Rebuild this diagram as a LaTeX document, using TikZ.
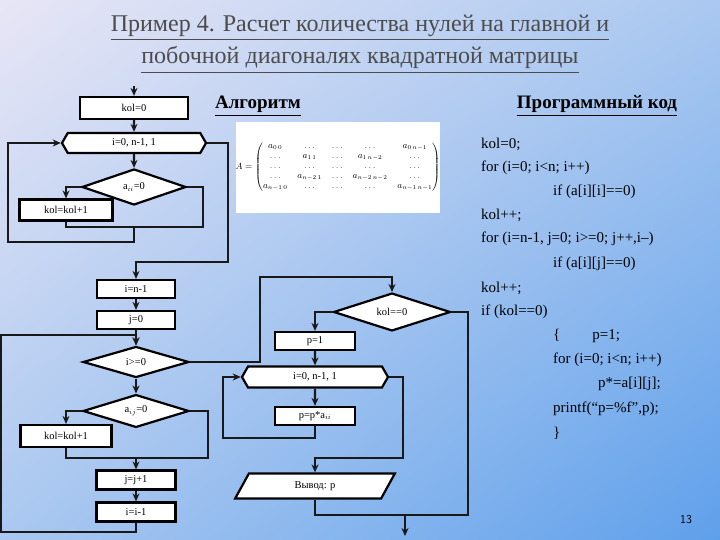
\documentclass[tikz,border=0pt]{standalone}
\usepackage{amsmath}
\usepackage{fontspec}
\setmainfont{Liberation Serif}
\usetikzlibrary{shapes.geometric,shapes.symbols,arrows.meta,shadings}
\definecolor{bgA}{RGB}{232,230,246}
\definecolor{bgB}{RGB}{170,200,240}
\definecolor{bgC}{RGB}{95,160,235}
\begin{document}
\begin{tikzpicture}[x=1pt,y=-1pt,
  lw/.style={line width=2.2pt},
  base/.style={lw,draw=black,fill=white,inner sep=0pt,font=\fontsize{10.5}{11}\selectfont},
  box/.style={base,rectangle},
  hex/.style={base,signal,signal to=east and west,signal pointer angle=120},
  dia/.style={base,diamond},
  io/.style={base,trapezium,trapezium left angle=65,trapezium right angle=115,trapezium stretches=true},
  ln/.style={lw,draw=black!90},
  arr/.style={ln,-{Stealth[length=8pt,width=7pt]}},
  code/.style={anchor=west,font=\fontsize{15}{16}\selectfont,inner sep=0pt},
  ttl/.style={font=\fontsize{24}{26}\selectfont,text=black!70}]
\useasboundingbox (0,0) rectangle (720,540);
\shade[upper left=bgA,upper right=bgB,lower left=bgB,lower right=bgC] (0,0) rectangle (720,540);
% title
\node[ttl] (t1) at (360,28) {\underline{Пример 4. Расчет количества нулей на главной и}};
\node[ttl] (t2) at (360,60) {\underline{побочной диагоналях квадратной матрицы}};
\node[font=\bfseries\fontsize{19}{20}\selectfont] (alg) at (258,106) {\underline{Алгоритм}};
\node[font=\bfseries\fontsize{19}{20}\selectfont] (prog) at (597,106) {\underline{Программный код}};
% matrix
\fill[white] (236,122) rectangle (440,213);
\node[font=\fontsize{9}{10}\selectfont] (mat) at (338,167) {$A=\begin{pmatrix}
a_{0\,0} & \ldots & \ldots & \ldots & a_{0\,n-1}\\
\ldots & a_{1\,1} & \ldots & a_{1\,n-2} & \ldots\\
\ldots & \ldots & \ldots & \ldots & \ldots\\
\ldots & a_{n-2\,1} & \ldots & a_{n-2\,n-2} & \ldots\\
a_{n-1\,0} & \ldots & \ldots & \ldots & a_{n-1\,n-1}
\end{pmatrix}$};
% first part
\coordinate (top) at (134,86);
\node[box,minimum width=108,minimum height=22] (k0) at (134,108) {kol=0};
\draw[arr] (top) -- (k0);
\node[hex,minimum width=144,minimum height=20] (h1) at (134,143) {i=0, n-1, 1};
\draw[arr] (k0) -- (h1);
\node[dia,minimum width=104,minimum height=36] (d1) at (134,187) {a$_{ii}$=0};
\draw[arr] (h1) -- (d1);
\node[box,minimum width=93,minimum height=21] (kk1) at (66,210) {kol=kol+1};
\draw[arr] (d1.west) -| (kk1.north);
\coordinate (m1) at (134,227);
\draw[ln] (d1.east) -| (203,227) -- (m1);
\draw[ln] (kk1.south) |- (m1);
\draw[arr] (m1) -- (134,242) -- (8,242) |- (h1.west);
\node[box,minimum width=78,minimum height=18] (in1) at (136,289) {i=n-1};
\draw[arr] (h1.east) -- (228,143) -- (228,262) -| (in1.north);
\node[box,minimum width=78,minimum height=18] (j0) at (136,320) {j=0};
\draw[arr] (in1) -- (j0);
\node[dia,minimum width=106,minimum height=31] (d2) at (136,362) {i>=0};
\draw[arr] (j0) -- (d2);
\node[dia,minimum width=106,minimum height=31] (d3) at (136,411) {a$_{ij}$=0};
\draw[arr] (d2) -- (d3);
\node[box,minimum width=91,minimum height=22] (kk2) at (66,436) {kol=kol+1};
\draw[arr] (d3.west) -| (kk2.north);
\coordinate (m2) at (136,458);
\draw[ln] (d3.east) -| (208,458) -- (m2);
\draw[ln] (kk2.south) |- (m2);
\node[box,minimum width=79,minimum height=19] (jj) at (136,480) {j=j+1};
\draw[arr] (m2) -- (jj);
\node[box,minimum width=79,minimum height=19] (ii) at (136,512) {i=i-1};
\draw[arr] (jj) -- (ii);
\draw[arr] (ii.south) -- (136,532) -- (1,532) -- (1,335) -- (136,335) -- (d2.north);
% second part
\node[dia,minimum width=117,minimum height=30] (kz) at (392,312) {kol==0};
\draw[arr] (d2.east) -- (260,362) -- (260,277) -| (kz.north);
\node[box,minimum width=80,minimum height=18] (p1) at (315,341) {p=1};
\draw[arr] (kz.west) -| (p1.north);
\node[hex,minimum width=146,minimum height=21] (h2) at (315,377) {i=0, n-1, 1};
\draw[arr] (p1) -- (h2);
\node[box,minimum width=80,minimum height=18] (pp) at (315,416) {p=p*a$_{ii}$};
\draw[arr] (h2) -- (pp);
\draw[arr] (pp.south) -- (315,438) -- (223,438) |- (h2.west);
\node[io,minimum width=160,minimum height=25] (out) at (315,486) {Вывод: p};
\draw[arr] (h2.east) -- (403,377) -- (403,458) -| (out.north);
\coordinate (m3) at (405,515);
\draw[ln] (out.south) |- (m3);
\draw[ln] (kz.east) -| (468,515) -- (m3);
\coordinate (end) at (405,536);
\draw[arr] (m3) -- (end);
% code
\node[code] (c1) at (481,144) {kol=0;};
\node[code] (c2) at (481,168) {for (i=0; i<n; i++)};
\node[code] (c3) at (553,192) {if (a[i][i]==0)};
\node[code] (c4) at (481,215) {kol++;};
\node[code] (c5) at (481,239) {for (i=n-1, j=0; i>=0; j++,i--)};
\node[code] (c6) at (553,264) {if (a[i][j]==0)};
\node[code] (c7) at (481,288) {kol++;};
\node[code] (c8) at (481,312) {if (kol==0)};
\node[code] (c9) at (553,336) {\{\hspace{32pt}p=1;};
\node[code] (c10) at (553,360) {for (i=0; i<n; i++)};
\node[code] (c11) at (598,384) {p*=a[i][j];};
\node[code] (c12) at (553,409) {printf(“p=\%f”,p);};
\node[code] (c13) at (553,433) {\}};
\node[font=\sffamily\fontsize{12}{12}\selectfont] (pg) at (686,520) {13};
\end{tikzpicture}
\end{document}
